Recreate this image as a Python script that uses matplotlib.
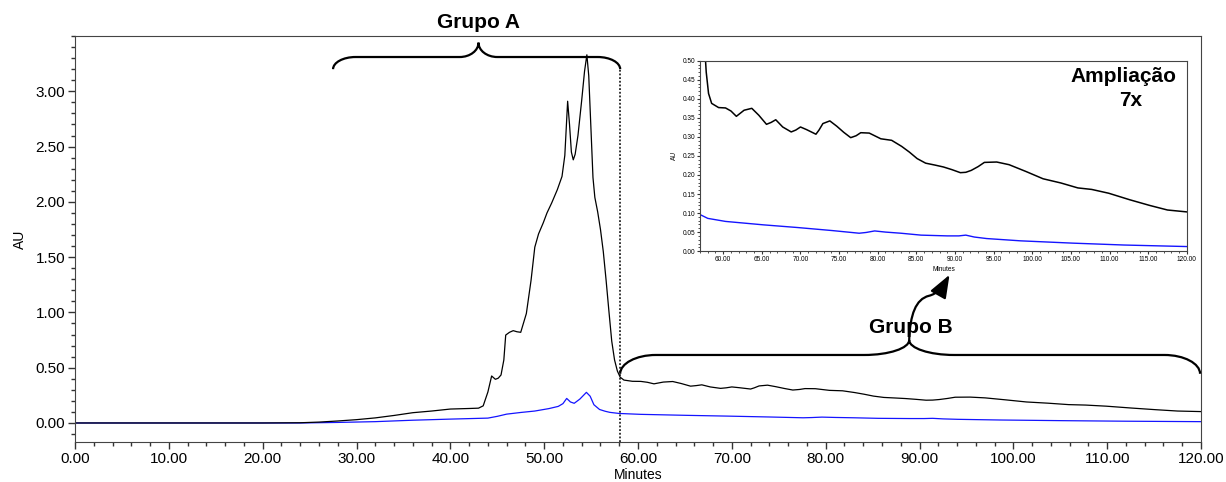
import numpy as np
import matplotlib
matplotlib.use("Agg")
import matplotlib.pyplot as plt
from matplotlib.path import Path
from matplotlib.patches import PathPatch, FancyArrowPatch
from matplotlib.ticker import MultipleLocator, FormatStrFormatter

plt.rcParams['font.family'] = ['Liberation Sans', 'DejaVu Sans']

# black trace (minutes, AU)
t_black = [0, 20, 24, 26, 28, 30, 32, 34, 36, 38, 40, 42, 43, 43.5, 44.0,
           44.4, 44.8, 45.1, 45.4, 45.7, 45.9, 46.3, 46.7, 47.1, 47.5, 48.1,
           48.6, 49.0, 49.4, 49.9, 50.3, 50.8, 51.4, 51.9, 52.2, 52.5, 52.7,
           52.9, 53.1, 53.3, 53.6, 54.0, 54.3, 54.55, 54.75, 55.0, 55.2,
           55.4, 55.7, 56.0, 56.3, 56.6, 56.9, 57.2, 57.5, 57.8, 58.1, 58.5,
           59.4, 60.3, 61.0, 61.7, 62.2, 62.7, 63.7, 64.6, 65.6, 66.2, 66.8,
           67.7, 68.8, 69.4, 70.0, 70.8, 72.0, 72.4, 72.9, 73.8, 74.7, 75.6,
           76.5, 77.2, 77.8, 78.9, 80.4, 81.8, 83.1, 84.1, 85.1, 86.2, 87.4,
           88.5, 89.6, 90.7, 91.4, 92.1, 93.0, 93.8, 95.4, 97.0, 99.2, 101.4,
           103.7, 105.9, 107.7, 109.9, 112.6, 115.2, 117.5, 120.0]
au_black = [0, 0, 0.002, 0.008, 0.018, 0.03, 0.046, 0.068, 0.093, 0.108,
            0.126, 0.131, 0.134, 0.155, 0.28, 0.425, 0.395, 0.405, 0.434,
            0.57, 0.795, 0.82, 0.835, 0.825, 0.82, 0.99, 1.29, 1.59, 1.71,
            1.81, 1.90, 1.99, 2.11, 2.23, 2.42, 2.91, 2.70, 2.45, 2.38, 2.43,
            2.60, 2.92, 3.18, 3.33, 3.14, 2.63, 2.22, 2.04, 1.91, 1.75, 1.55,
            1.29, 1.01, 0.74, 0.57, 0.47, 0.414, 0.388, 0.377, 0.376, 0.368,
            0.354, 0.362, 0.370, 0.375, 0.357, 0.333, 0.338, 0.345, 0.326,
            0.313, 0.318, 0.326, 0.319, 0.307, 0.318, 0.335, 0.342, 0.328,
            0.312, 0.298, 0.303, 0.311, 0.310, 0.295, 0.291, 0.275, 0.26,
            0.243, 0.231, 0.226, 0.221, 0.214, 0.206, 0.207, 0.212, 0.222,
            0.233, 0.234, 0.227, 0.209, 0.190, 0.179, 0.166, 0.162, 0.152,
            0.135, 0.120, 0.108, 0.103]

# blue trace (minutes, AU)
t_blue = [0, 24, 28, 32, 36, 40, 44, 45, 46, 47.5, 49, 50.5, 51.5, 52.0,
          52.4, 52.8, 53.2, 53.8, 54.5, 54.9, 55.3, 55.9, 56.5, 57.0, 58.0,
          60.3, 65.2, 69.6, 74.1, 77.6, 78.5, 79.6, 81.0, 83.0, 85.6, 89.0,
          90.5, 91.4, 92.5, 94.1, 98.5, 105.2, 111.9, 120.0]
au_blue = [0, 0, 0.005, 0.012, 0.025, 0.035, 0.044, 0.06, 0.08, 0.095,
           0.108, 0.13, 0.15, 0.175, 0.222, 0.19, 0.178, 0.216, 0.277,
           0.242, 0.165, 0.122, 0.106, 0.096, 0.086, 0.078, 0.069, 0.062,
           0.054, 0.047, 0.049, 0.053, 0.050, 0.047, 0.042, 0.040, 0.040,
           0.042, 0.037, 0.033, 0.027, 0.021, 0.016, 0.012]

split_min = 58.1


def brace(ax, x0, x1, xc, y_end, y_line, y_tip, r, w, lw=1.6):
    v = [(x0, y_end),
         (x0, y_end + 0.55 * (y_line - y_end)), (x0 + 0.45 * r, y_line), (x0 + r, y_line),
         (xc - w, y_line),
         (xc - 0.45 * w, y_line), (xc, y_line + 0.45 * (y_tip - y_line)), (xc, y_tip),
         (xc, y_line + 0.45 * (y_tip - y_line)), (xc + 0.45 * w, y_line), (xc + w, y_line),
         (x1 - r, y_line),
         (x1 - 0.45 * r, y_line), (x1, y_end + 0.55 * (y_line - y_end)), (x1, y_end)]
    c = [Path.MOVETO, Path.CURVE4, Path.CURVE4, Path.CURVE4, Path.LINETO,
         Path.CURVE4, Path.CURVE4, Path.CURVE4, Path.CURVE4, Path.CURVE4,
         Path.CURVE4, Path.LINETO, Path.CURVE4, Path.CURVE4, Path.CURVE4]
    ax.add_patch(PathPatch(Path(v, c), fill=False, lw=lw, color='black',
                           clip_on=False, zorder=5))


fig = plt.figure(figsize=(12.26, 4.82), dpi=100)
ax = fig.add_axes([0.0612, 0.083, 0.9184, 0.8423])
ax.plot(t_blue, au_blue, color='#1414ff', lw=0.9)
ax.plot(t_black, au_black, color='black', lw=0.9)
ax.set_xlim(0, 120)
ax.set_ylim(-0.172, 3.5)
ax.xaxis.set_major_locator(MultipleLocator(10))
ax.xaxis.set_minor_locator(MultipleLocator(2))
ax.set_yticks(np.arange(0, 3.01, 0.5))
ax.yaxis.set_minor_locator(MultipleLocator(0.1))
ax.xaxis.set_major_formatter(FormatStrFormatter('%.2f'))
ax.yaxis.set_major_formatter(FormatStrFormatter('%.2f'))
ax.tick_params(which='major', length=5, width=1, labelsize=11, pad=2, color='#333333')
ax.tick_params(which='minor', length=3, width=1, color='#333333')
for s in ax.spines.values():
    s.set_color('#444444')
ax.set_xlabel('Minutes', fontsize=10, labelpad=2)
ax.set_ylabel('AU', fontsize=10, labelpad=6)

ax.plot([split_min, split_min], [-0.172, 3.20], ls=(0, (1.2, 1.2)), color='black', lw=1.1)

brace(ax, 27.5, split_min, 43.0, 3.20, 3.31, 3.44, 2.4, 2.0)
ax.text(43.0, 3.62, 'Grupo A', ha='center', va='center', fontsize=15,
        fontweight='bold', clip_on=False)

brace(ax, split_min, 119.9, 88.9, 0.445, 0.615, 0.75, 3.8, 4.8)
ax.text(89.1, 0.86, 'Grupo B', ha='center', va='center', fontsize=15,
        fontweight='bold')

arrow_path = Path([(88.9, 0.75), (89.0, 0.98), (89.6, 1.12), (91.0, 1.15),
                   (91.9, 1.17), (92.4, 1.22), (93.2, 1.34)],
                  [Path.MOVETO, Path.CURVE4, Path.CURVE4, Path.CURVE4,
                   Path.CURVE4, Path.CURVE4, Path.CURVE4])
ax.add_patch(FancyArrowPatch(path=arrow_path, arrowstyle='-|>,head_length=1.0,head_width=0.38',
                             mutation_scale=14, lw=1.6, color='black', zorder=6))

# inset 7x
ins = fig.add_axes([0.571, 0.479, 0.397, 0.395])
ins.plot(t_blue, au_blue, color='#1414ff', lw=1.0)
ins.plot(t_black, au_black, color='black', lw=1.1)
ins.set_xlim(57, 120)
ins.set_ylim(0, 0.5)
ins.xaxis.set_major_locator(MultipleLocator(5))
ins.xaxis.set_minor_locator(MultipleLocator(1))
ins.yaxis.set_major_locator(MultipleLocator(0.05))
ins.yaxis.set_minor_locator(MultipleLocator(0.01))
ins.xaxis.set_major_formatter(FormatStrFormatter('%.2f'))
ins.yaxis.set_major_formatter(FormatStrFormatter('%.2f'))
ins.tick_params(which='major', length=2.5, width=0.8, labelsize=4.7, pad=1, color='#333333')
ins.tick_params(which='minor', length=1.5, width=0.6, color='#333333')
for s in ins.spines.values():
    s.set_color('#444444')
ins.set_xlabel('Minutes', fontsize=4.7, labelpad=2)
ins.set_ylabel('AU', fontsize=4.7, labelpad=3)
ins.text(0.87, 0.916, 'Ampliação', transform=ins.transAxes, ha='center',
         va='center', fontsize=15, fontweight='bold')
ins.text(0.885, 0.79, '7x', transform=ins.transAxes, ha='center',
         va='center', fontsize=15, fontweight='bold')

fig.savefig('out.png', dpi=100)
